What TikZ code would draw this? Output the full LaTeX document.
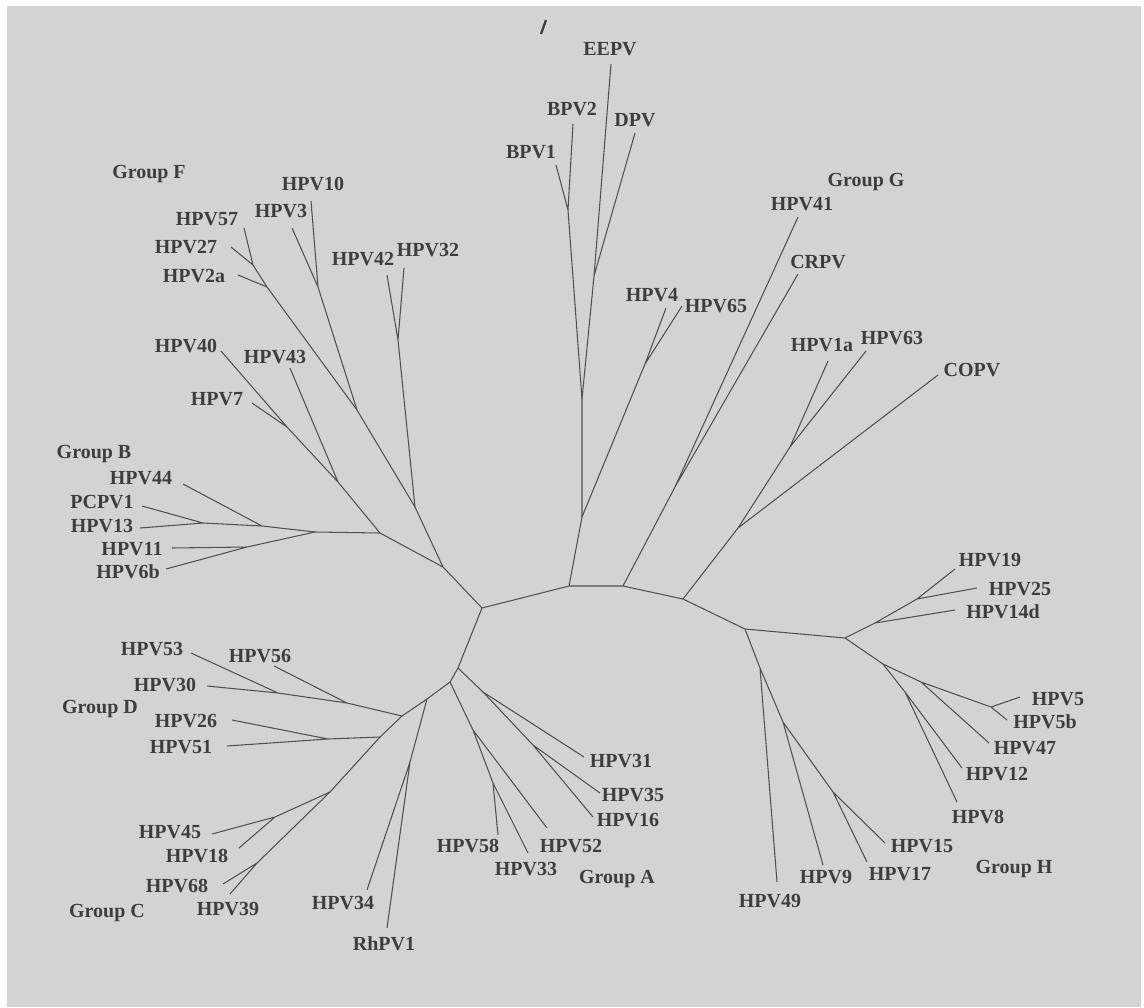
\documentclass[tikz,border=0pt]{standalone}
\usepackage{fontspec}
\setmainfont{Liberation Serif}
\usepackage{tikz}
\definecolor{scan}{RGB}{211,211,211}
\definecolor{ink}{RGB}{62,62,62}
\tikzstyle{taxon}=[font=\fontsize{14.2}{16}\selectfont\bfseries, text=ink, inner sep=0pt]
\tikzstyle{group}=[taxon]
\tikzstyle{branch}=[draw=ink!90, line width=0.75pt]

\begin{document}
\begin{tikzpicture}[x=0.025cm, y=-0.025cm]
      \useasboundingbox (0,0) rectangle (1144,1007);
      \fill[white] (0,0) rectangle (1144,1007);
      \fill[scan] (7,6) rectangle (1141,1007);
      \draw[ink, line width=1.6pt] (541,34) -- (546,20);

      \coordinate (A1) at (482,608);
      \coordinate (A2) at (569,586);
      \coordinate (A3) at (623,586);
      \coordinate (A4) at (683,599);
      \coordinate (A5) at (745,629);
      \coordinate (L1) at (458,668);
      \coordinate (L2) at (450,682);
      \coordinate (L3) at (427,699);
      \coordinate (L4) at (402,716);
      \coordinate (L5) at (380,737);
      \coordinate (C0) at (330,792);

      \coordinate (c1) at (275,817);
      \coordinate (c2) at (257,863);
      \coordinate (d1) at (347,703);
      \coordinate (d2) at (278,693);
      \coordinate (d3) at (328,739);
      \coordinate (r1) at (410,762);
      \coordinate (a1) at (483,692);
      \coordinate (a2) at (533,745);
      \coordinate (a3) at (473,730);
      \coordinate (a4) at (493,783);
      \coordinate (fb) at (443,567);
      \coordinate (b0) at (380,533);
      \coordinate (bb) at (315,532);
      \coordinate (b1) at (262,526);
      \coordinate (b2) at (203,523);
      \coordinate (b3) at (247,547);
      \coordinate (f0) at (415,507);
      \coordinate (f1) at (338,482);
      \coordinate (f2) at (287,427);
      \coordinate (f3) at (398,340);
      \coordinate (f4) at (357,410);
      \coordinate (f5) at (318,287);
      \coordinate (f6) at (267,287);
      \coordinate (f7) at (253,265);
      \coordinate (u1) at (582,517);
      \coordinate (u2) at (582,399);
      \coordinate (u3) at (645,364);
      \coordinate (u4) at (568,210);
      \coordinate (u5) at (594,276);
      \coordinate (g1) at (675,487);
      \coordinate (g2) at (738,528);
      \coordinate (g3) at (790,447);
      \coordinate (h1) at (845,638);
      \coordinate (h2) at (760,668);
      \coordinate (k1) at (875,623);
      \coordinate (k2) at (917,599);
      \coordinate (h3) at (883,664);
      \coordinate (h4) at (921,682);
      \coordinate (h5) at (991,707);
      \coordinate (h6) at (905,692);
      \coordinate (h7) at (783,722);
      \coordinate (h8) at (833,792);

      \coordinate (t45) at (212,834);
      \coordinate (t18) at (239,848);
      \coordinate (t68) at (223,884);
      \coordinate (t39) at (230,894);
      \coordinate (t56) at (274,666);
      \coordinate (t53) at (191,653);
      \coordinate (t30) at (207,686);
      \coordinate (t26) at (232,720);
      \coordinate (t51) at (227,746);
      \coordinate (t34) at (367,890);
      \coordinate (tRh) at (387,928);
      \coordinate (t31) at (584,757);
      \coordinate (t35) at (600,793);
      \coordinate (t16) at (593,817);
      \coordinate (t52) at (547,828);
      \coordinate (t58) at (498,835);
      \coordinate (t33) at (528,853);
      \coordinate (t44) at (183,484);
      \coordinate (tPC) at (142,506);
      \coordinate (t13) at (140,528);
      \coordinate (t11) at (172,548);
      \coordinate (t6b) at (166,569);
      \coordinate (t43) at (290,368);
      \coordinate (t7) at (252,403);
      \coordinate (t40) at (221,351);
      \coordinate (t42) at (387,275);
      \coordinate (t32) at (404,268);
      \coordinate (t3) at (292,228);
      \coordinate (t10) at (311,201);
      \coordinate (t2a) at (238,275);
      \coordinate (t57) at (244,228);
      \coordinate (t27) at (231,247);
      \coordinate (t4) at (666,308);
      \coordinate (t65) at (682,306);
      \coordinate (tB1) at (556,165);
      \coordinate (tB2) at (573,124);
      \coordinate (tEE) at (611,64);
      \coordinate (tDP) at (635,133);
      \coordinate (t41) at (798,217);
      \coordinate (tCR) at (798,274);
      \coordinate (tCO) at (938,375);
      \coordinate (t1a) at (828,361);
      \coordinate (t63) at (866,351);
      \coordinate (t14d) at (955,610);
      \coordinate (t25) at (977,588);
      \coordinate (t19) at (955,569);
      \coordinate (t47) at (989,743);
      \coordinate (t5) at (1020,697);
      \coordinate (t5b) at (1007,720);
      \coordinate (t12) at (962,768);
      \coordinate (t8) at (957,802);
      \coordinate (t49) at (777,882);
      \coordinate (t9) at (823,865);
      \coordinate (t15) at (885,843);
      \coordinate (t17) at (867,862);

      \draw[branch] (A5) -- (A4) -- (A3) -- (A2) -- (A1) -- (L1) -- (L2) -- (L3) -- (L4) -- (L5) -- (C0);
      \draw[branch] (C0) -- (c1) -- (t45) (c1) -- (t18);
      \draw[branch] (C0) -- (c2) -- (t39) (c2) -- (t68);
      \draw[branch] (L4) -- (d1) -- (d2) -- (t30) (d1) -- (t56) (d2) -- (t53);
      \draw[branch] (L5) -- (d3) -- (t26) (d3) -- (t51);
      \draw[branch] (L3) -- (r1) -- (t34) (r1) -- (tRh);
      \draw[branch] (L1) -- (a1) -- (t31) (a1) -- (a2) -- (t35) (a2) -- (t16);
      \draw[branch] (L2) -- (a3) -- (t52) (a3) -- (a4) -- (t58) (a4) -- (t33);
      \draw[branch] (A1) -- (fb) -- (b0) -- (bb) -- (b1) -- (b2) -- (t13) (b2) -- (tPC) (b1) -- (t44);
      \draw[branch] (bb) -- (b3) -- (t6b) (b3) -- (t11);
      \draw[branch] (b0) -- (f1) -- (t43) (f1) -- (f2) -- (t40) (f2) -- (t7);
      \draw[branch] (fb) -- (f0) -- (f3) -- (t42) (f3) -- (t32);
      \draw[branch] (f0) -- (f4) -- (f5) -- (t3) (f5) -- (t10);
      \draw[branch] (f4) -- (f6) -- (t2a) (f6) -- (f7) -- (t57) (f7) -- (t27);
      \draw[branch] (A2) -- (u1) -- (u2) -- (u4) -- (tB1) (u4) -- (tB2);
      \draw[branch] (u2) -- (u5) -- (tEE) (u5) -- (tDP);
      \draw[branch] (u1) -- (u3) -- (t4) (u3) -- (t65);
      \draw[branch] (A3) -- (g1) -- (t41) (g1) -- (tCR);
      \draw[branch] (A4) -- (g2) -- (tCO) (g2) -- (g3) -- (t1a) (g3) -- (t63);
      \draw[branch] (A5) -- (h1) -- (k1) -- (t14d) (k1) -- (k2) -- (t25) (k2) -- (t19);
      \draw[branch] (h1) -- (h3) -- (h4) -- (h5) -- (t5) (h5) -- (t5b) (h4) -- (t47);
      \draw[branch] (h3) -- (h6) -- (t12) (h6) -- (t8);
      \draw[branch] (A5) -- (h2) -- (t49) (h2) -- (h7) -- (t9) (h7) -- (h8) -- (t15) (h8) -- (t17);

      \node[taxon] (eepv) at (610,49) {EEPV};
      \node[taxon] (bpv2) at (572,109) {BPV2};
      \node[taxon] (dpv) at (635,120) {DPV};
      \node[taxon] (bpv1) at (531,152) {BPV1};
      \node[taxon] (hpv4) at (652,295) {HPV4};
      \node[taxon] (hpv65) at (716,306) {HPV65};
      \node[group] (grG) at (866,182) {Group G};
      \node[taxon] (hpv41) at (802,204) {HPV41};
      \node[taxon] (crpv) at (818,262) {CRPV};
      \node[taxon] (hpv1a) at (822,345) {HPV1a};
      \node[taxon] (hpv63) at (892,338) {HPV63};
      \node[taxon] (copv) at (972,370) {COPV};

      \node[group] (grF) at (149,174) {Group F};
      \node[taxon] (hpv10) at (313,184) {HPV10};
      \node[taxon] (hpv3) at (281,211) {HPV3};
      \node[taxon] (hpv57) at (207,219) {HPV57};
      \node[taxon] (hpv27) at (186,247) {HPV27};
      \node[taxon] (hpv2a) at (194,276) {HPV2a};
      \node[taxon] (hpv42) at (363,259) {HPV42};
      \node[taxon] (hpv32) at (428,250) {HPV32};
      \node[taxon] (hpv40) at (186,346) {HPV40};
      \node[taxon] (hpv43) at (275,357) {HPV43};
      \node[taxon] (hpv7) at (217,399) {HPV7};

      \node[group] (grB) at (94,454) {Group B};
      \node[taxon] (hpv44) at (141,478) {HPV44};
      \node[taxon] (pcpv1) at (102,502) {PCPV1};
      \node[taxon] (hpv13) at (102,526) {HPV13};
      \node[taxon] (hpv11) at (132,549) {HPV11};
      \node[taxon] (hpv6b) at (128,572) {HPV6b};

      \node[taxon] (hpv53) at (152,649) {HPV53};
      \node[taxon] (hpv56) at (260,656) {HPV56};
      \node[taxon] (hpv30) at (165,685) {HPV30};
      \node[group] (grD) at (100,709) {Group D};
      \node[taxon] (hpv26) at (186,721) {HPV26};
      \node[taxon] (hpv51) at (181,747) {HPV51};

      \node[taxon] (hpv45) at (170,832) {HPV45};
      \node[taxon] (hpv18) at (197,856) {HPV18};
      \node[taxon] (hpv68) at (177,886) {HPV68};
      \node[taxon] (hpv39) at (228,909) {HPV39};
      \node[group] (grC) at (107,913) {Group C};
      \node[taxon] (hpv34) at (343,903) {HPV34};
      \node[taxon] (rhpv1) at (384,944) {RhPV1};

      \node[taxon] (hpv31) at (621,761) {HPV31};
      \node[taxon] (hpv35) at (633,795) {HPV35};
      \node[taxon] (hpv16) at (628,820) {HPV16};
      \node[taxon] (hpv58) at (468,846) {HPV58};
      \node[taxon] (hpv52) at (571,846) {HPV52};
      \node[taxon] (hpv33) at (526,869) {HPV33};
      \node[group] (grA) at (617,879) {Group A};

      \node[taxon] (hpv19) at (990,560) {HPV19};
      \node[taxon] (hpv25) at (1020,589) {HPV25};
      \node[taxon] (hpv14d) at (1003,612) {HPV14d};
      \node[taxon] (hpv5) at (1058,699) {HPV5};
      \node[taxon] (hpv5b) at (1045,722) {HPV5b};
      \node[taxon] (hpv47) at (1025,748) {HPV47};
      \node[taxon] (hpv12) at (997,774) {HPV12};
      \node[taxon] (hpv8) at (978,817) {HPV8};
      \node[taxon] (hpv15) at (922,846) {HPV15};
      \node[taxon] (hpv17) at (900,874) {HPV17};
      \node[taxon] (hpv9) at (826,877) {HPV9};
      \node[taxon] (hpv49) at (770,901) {HPV49};
      \node[group] (grH) at (1014,869) {Group H};
\end{tikzpicture}
\end{document}
